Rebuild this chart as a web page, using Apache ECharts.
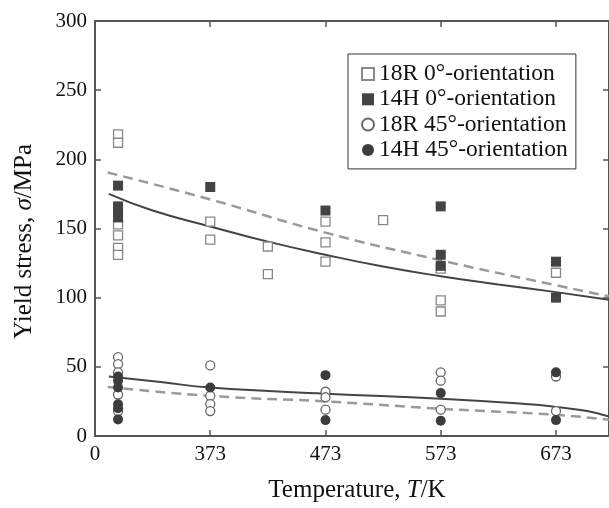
<!DOCTYPE html>
<html>
<head>
<meta charset="utf-8">
<script src="https://cdn.jsdelivr.net/npm/echarts@6/dist/echarts.min.js"></script>
<style>
html,body{margin:0;padding:0;background:#fff;}
#chart{width:609px;height:508px;}
</style>
</head>
<body>
<div id="chart"></div>
<script>
// ---- data (temperature in K, yield stress in MPa) ----
var xTicks = [273, 373, 473, 573, 673];
var xTickLabels = ['0', '373', '473', '573', '673'];
var yTicks = [0, 50, 100, 150, 200, 250, 300];

var r18_0 = [[293,218],[293,212],[293,153],[293,145],[293,136],[293,131],
             [373,155],[373,142],[423,137],[423,117],
             [473,155],[473,140],[473,126],[523,156],
             [573,121],[573,98],[573,90],[673,118]];
var h14_0 = [[293,181],[293,166],[293,162],[293,158],[373,180],[473,163],
             [573,166],[573,131],[573,123],[673,126],[673,100]];
var r18_45 = [[293,57],[293,52],[293,46],[293,30],[293,18],
              [373,51],[373,29],[373,23],[373,18],
              [473,32],[473,28],[473,19],
              [573,46],[573,40],[573,19],[673,43],[673,18]];
var h14_45 = [[293,43],[293,40],[293,35],[293,23],[293,20],[293,12],
              [373,35],[473,44],[473,11.5],[573,31],[573,11],[673,46],[673,11.5]];

// fitted curves
var fitUpperDashed = [[284,190.5],[373,171],[473,147],[573,127],[673,109],[719,101]];
var fitUpperSolid  = [[285,175],[323,163],[373,151.5],[423,140.5],[473,131],[523,122.5],[573,115.5],[623,109.5],[673,104],[719,98.5]];
var fitLowerSolid  = [[285,43],[330,39],[373,35],[473,30.5],[573,27],[650,23],[673,21],[700,18],[719,14]];
var fitLowerDashed = [[284,35.5],[373,29],[473,25],[573,19.7],[673,15.3],[719,11.7]];

var names = ['18R 0°-orientation', '14H 0°-orientation', '18R 45°-orientation', '14H 45°-orientation'];

var FONT = '"Liberation Serif", "DejaVu Serif", serif';
var AXC = '#555';

var chart = echarts.init(document.getElementById('chart'), null, {renderer: 'canvas'});

function lineSeries(name, data, color, width, type) {
  return {
    name: name, type: 'line', data: data, smooth: true, showSymbol: false, symbol: 'none',
    lineStyle: {color: color, width: width, type: type}, z: 1, silent: true
  };
}

var option = {
  backgroundColor: '#fff',
  animation: false,
  grid: {left: 95, width: 515, top: 21, bottom: 70},
  legend: {
    data: names, orient: 'vertical', left: 348, top: 54,
    padding: [8, 8, 7, 13], itemGap: 1.3, itemWidth: 12, itemHeight: 12,
    borderColor: '#333', borderWidth: 1, backgroundColor: '#fff',
    textStyle: {fontFamily: FONT, fontSize: 23.5, color: '#111', lineHeight: 22}
  },
  xAxis: [{
    type: 'value', min: 273, max: 719, position: 'bottom',
    axisLine: {onZero: false, lineStyle: {color: AXC, width: 2}},
    axisTick: {inside: true, length: 6, customValues: xTicks, lineStyle: {color: AXC, width: 1.5}},
    axisLabel: {customValues: xTicks, margin: 8, fontFamily: FONT, fontSize: 21, color: '#111',
      formatter: function (v) { var i = xTicks.indexOf(v); return i >= 0 ? xTickLabels[i] : ''; }},
    splitLine: {show: false},
    name: '{n|Temperature, }{i|T}{n|/K}', nameLocation: 'middle', nameGap: 42,
    nameTextStyle: {padding: [0, 0, 0, 10], rich: {n: {fontFamily: FONT, fontSize: 25, color: '#111'}, i: {fontFamily: FONT, fontSize: 25, fontStyle: 'italic', color: '#111'}}}
  }, {
    type: 'value', min: 273, max: 719, position: 'top',
    axisLine: {onZero: false, lineStyle: {color: AXC, width: 2}},
    axisTick: {inside: true, length: 6, customValues: xTicks, lineStyle: {color: AXC, width: 1.5}},
    axisLabel: {show: false}, splitLine: {show: false}
  }],
  yAxis: [{
    type: 'value', min: 0, max: 300, interval: 50, position: 'left',
    axisLine: {show: true, onZero: false, lineStyle: {color: AXC, width: 2}},
    axisTick: {show: true, inside: true, length: 6, lineStyle: {color: AXC, width: 1.5}},
    axisLabel: {margin: 8, fontFamily: FONT, fontSize: 21, color: '#111'},
    splitLine: {show: false},
    name: '{n|Yield stress, }{i|σ}{n|/MPa}', nameLocation: 'middle', nameGap: 58,
    nameTextStyle: {padding: [0, 26, 0, 0], rich: {n: {fontFamily: FONT, fontSize: 25, color: '#111'}, i: {fontFamily: FONT, fontSize: 25, fontStyle: 'italic', color: '#111'}}}
  }, {
    type: 'value', min: 0, max: 300, interval: 50, position: 'right',
    axisLine: {show: true, onZero: false, lineStyle: {color: AXC, width: 2}},
    axisTick: {show: true, inside: true, length: 6, lineStyle: {color: AXC, width: 1.5}},
    axisLabel: {show: false}, splitLine: {show: false}
  }],
  series: [
    lineSeries('Fit 18R 0°', fitUpperDashed, '#9a9a9a', 2.5, [10, 6]),
    lineSeries('Fit 14H 0°', fitUpperSolid, '#444', 2, 'solid'),
    lineSeries('Fit 14H 45°', fitLowerSolid, '#444', 2, 'solid'),
    lineSeries('Fit 18R 45°', fitLowerDashed, '#9a9a9a', 2.5, [10, 6]),
    {name: names[0], type: 'scatter', data: r18_0, symbol: 'rect', symbolSize: 9, z: 3,
      itemStyle: {color: '#fff', borderColor: '#888', borderWidth: 1.3, opacity: 1}},
    {name: names[2], type: 'scatter', data: r18_45, symbol: 'circle', symbolSize: 9, z: 3,
      itemStyle: {color: '#fff', borderColor: '#666', borderWidth: 1.3, opacity: 1}},
    {name: names[1], type: 'scatter', data: h14_0, symbol: 'rect', symbolSize: 10, z: 4,
      itemStyle: {color: '#444', opacity: 1}},
    {name: names[3], type: 'scatter', data: h14_45, symbol: 'circle', symbolSize: 10, z: 4,
      itemStyle: {color: '#3c3c3c', opacity: 1}}
  ]
};
chart.setOption(option);
</script>
</body>
</html>
